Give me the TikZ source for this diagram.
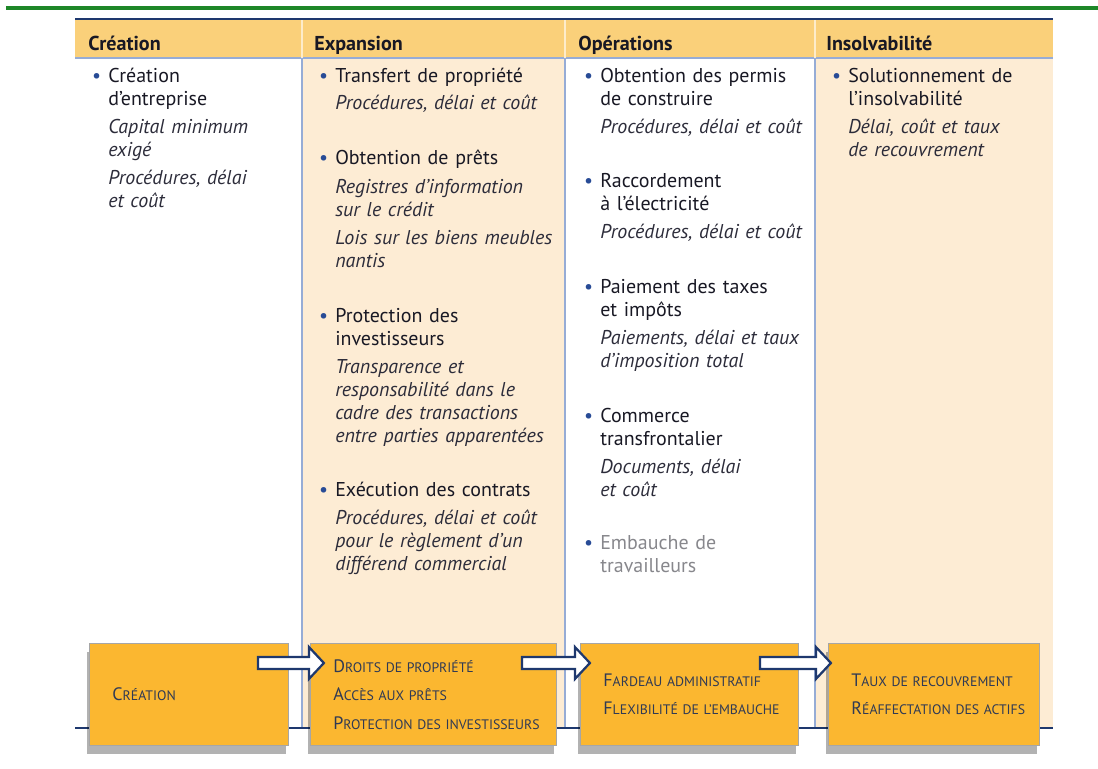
\documentclass[tikz,border=0pt]{standalone}
\usepackage{fontspec}
\setmainfont{PT Sans}
\usetikzlibrary{positioning,shadows,calc}
\definecolor{hdrfill}{RGB}{250,208,122}
\definecolor{cream}{RGB}{253,236,212}
\definecolor{colline}{RGB}{150,172,214}
\definecolor{navy}{RGB}{30,56,110}
\definecolor{boxfill}{RGB}{251,183,48}
\definecolor{boxtext}{RGB}{48,58,84}
\definecolor{txt}{RGB}{24,24,36}
\definecolor{ittxt}{RGB}{44,44,58}
\definecolor{bullblue}{RGB}{40,75,150}
\definecolor{topgreen}{RGB}{30,135,40}
\definecolor{greytxt}{RGB}{135,135,140}
\tikzset{
  hdr/.style={anchor=base west,inner sep=0pt,font=\bfseries\fontsize{14.3}{16}\selectfont,text=txt},
  item/.style={anchor=base west,inner sep=0pt,text width=6.5cm,align=left,font=\fontsize{14.2}{16.4}\selectfont,text=txt},
  sub/.style={item,font=\itshape\fontsize{14.2}{16.4}\selectfont,text=ittxt},
  obox/.style={anchor=north west,fill=boxfill,draw=gray!70,line width=0.6pt,minimum height=2.55cm,
    inner xsep=0.575cm,inner ysep=0pt,align=left,font=\fontsize{9.8}{20.3}\selectfont,text=boxtext,
    drop shadow={shadow xshift=-1.5pt,shadow yshift=-6pt,opacity=0.3,fill=black}},
  blockarr/.style={draw=navy,line width=1.6pt,fill=white,line join=miter}
}
\newcommand{\bul}{\llap{\textcolor{bullblue}{\textbullet}\hspace{5pt}}}
\newcommand{\smc}[2]{\mbox{{\fontsize{12.8}{20.3}\selectfont #1}#2}}

\begin{document}
\begin{tikzpicture}[x=0.025cm,y=-0.025cm]
  \useasboundingbox (0,0) rectangle (1098,769);
  % background
  \draw[topgreen,line width=2.2pt] (6,8) -- (1098,8);
  \fill[cream] (302,58) rectangle (565,728);
  \fill[cream] (815,58) rectangle (1053,728);
  \fill[hdrfill] (75,19) rectangle (1053,58);
  \draw[navy,line width=2pt] (75,19) -- (1053,19);
  \draw[colline,line width=0.8pt] (75,58) -- (1053,58);
  \foreach \x in {302,565,815} {
    \draw[white!60!hdrfill,line width=1pt] (\x,20) -- (\x,58);
    \draw[colline,line width=1.2pt] (\x,58) -- (\x,728);
  }
  \draw[navy,line width=1.2pt] (75,728) -- (1053,728);

  % headers
  \node[hdr] (h1) at (88,50) {Création};
  \node[hdr] (h2) at (314,50) {Expansion};
  \node[hdr] (h3) at (578,50) {Opérations};
  \node[hdr] (h4) at (826,50) {Insolvabilité};

  % column 1
  \node[item] (c1a) at (108,82) {\bul Création\\d’entreprise};
  \node[sub] (c1b) at (108,133) {Capital minimum\\exigé};
  \node[sub] (c1c) at (108,184) {Procédures, délai\\et coût};

  % column 2
  \node[item] (c2a) at (335,82) {\bul Transfert de propriété};
  \node[sub] (c2b) at (335,109) {Procédures, délai et coût};
  \node[item] (c2c) at (335,164) {\bul Obtention de prêts};
  \node[sub] (c2d) at (335,193) {Registres d’information\\sur le crédit};
  \node[sub] (c2e) at (335,244) {Lois sur les biens meubles\\nantis};
  \node[item] (c2f) at (335,322) {\bul Protection des\\investisseurs};
  \node[sub] (c2g) at (335,373) {Transparence et\\responsabilité dans le\\cadre des transactions\\entre parties apparentées};
  \node[item] (c2h) at (335,496) {\bul Exécution des contrats};
  \node[sub] (c2i) at (335,524) {Procédures, délai et coût\\pour le règlement d’un\\différend commercial};

  % column 3
  \node[item] (c3a) at (600,82) {\bul Obtention des permis\\de construire};
  \node[sub] (c3b) at (600,133) {Procédures, délai et coût};
  \node[item] (c3c) at (600,187) {\bul Raccordement\\à l’électricité};
  \node[sub] (c3d) at (600,238) {Procédures, délai et coût};
  \node[item] (c3e) at (600,293) {\bul Paiement des taxes\\et impôts};
  \node[sub] (c3f) at (600,344) {Paiements, délai et taux\\d’imposition total};
  \node[item] (c3g) at (600,422) {\bul Commerce\\transfrontalier};
  \node[sub] (c3h) at (600,473) {Documents, délai\\et coût};
  \node[item,text=greytxt] (c3i) at (600,549) {\bul Embauche de\\travailleurs};

  % column 4
  \node[item] (c4a) at (848,82) {\bul Solutionnement de\\l’insolvabilité};
  \node[sub] (c4b) at (848,133) {Délai, coût et taux\\de recouvrement};

  % bottom boxes
  \node[obox,text width=3.825cm] (b1) at (89,643) {\smc{C}{RÉATION}};
  \node[obox,text width=5cm] (b2) at (310,643) {\smc{D}{ROITS DE PROPRIÉTÉ}\\\smc{A}{CCÈS AUX PRÊTS}\\\smc{P}{ROTECTION DES INVESTISSEURS}};
  \node[obox,text width=4.3cm] (b3) at (580,643) {\smc{F}{ARDEAU ADMINISTRATIF}\\\smc{F}{LEXIBILITÉ DE L’EMBAUCHE}};
  \node[obox,text width=4.125cm] (b4) at (828,643) {\smc{T}{AUX DE RECOUVREMENT}\\\smc{R}{ÉAFFECTATION DES ACTIFS}};

  % arrows between boxes
  \draw[blockarr] ($(b1.north east)+(-31,14)$) -- ++(51,0) -- ++(0,-10) -- ++(15,16) -- ++(-15,16) -- ++(0,-10) -- ++(-51,0) -- cycle;
  \draw[blockarr] ($(b2.north east)+(-35,14)$) -- ++(53,0) -- ++(0,-10) -- ++(15,16) -- ++(-15,16) -- ++(0,-10) -- ++(-53,0) -- cycle;
  \draw[blockarr] ($(b3.north east)+(-39,14)$) -- ++(56,0) -- ++(0,-10) -- ++(15,16) -- ++(-15,16) -- ++(0,-10) -- ++(-56,0) -- cycle;
\end{tikzpicture}
\end{document}
